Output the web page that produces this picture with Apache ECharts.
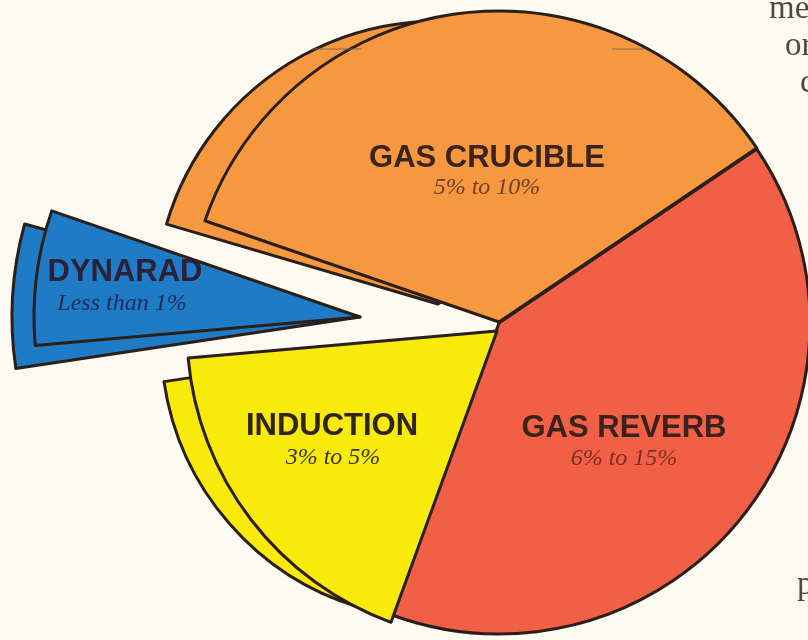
<!DOCTYPE html>
<html>
<head>
<meta charset="utf-8">
<script src="https://cdn.jsdelivr.net/npm/echarts@6/dist/echarts.min.js"></script>
<style>
  html, body { margin: 0; padding: 0; background: #FCFAF1; }
  #chart { width: 808px; height: 640px; }
</style>
</head>
<body>
<div id="chart"></div>
<script>
// ---- data (as drawn: wedge sizes in degrees, clockwise from the upper-left) ----
const categories = ['GAS CRUCIBLE', 'GAS REVERB', 'INDUCTION', 'DYNARAD'];
const ranges = ['5% to 10%', '6% to 15%', '3% to 5%', 'Less than 1%'];
const sliceAngles = [127, 144, 65, 24];

// ---- styling / layout ----
const colors = ['#F5983F', '#F05F46', '#F8EA0A', '#1F7BC6'];
const edge = '#2a1f1b';
const startAngle = 161;
// top faces (exploded centres)
const topFaces = [
  { center: [499, 322], radius: 311, start: startAngle },
  { center: [499, 323], radius: 311, start: startAngle },
  { center: [497, 331], radius: 310, start: startAngle },
  { center: [360, 317], radius: 326, start: startAngle }
];
// side (thickness) faces, drawn underneath
const sideFaces = [
  { idx: 0, center: [438, 304], radius: 283, start: startAngle + 2.6 },
  { idx: 2, center: [439, 341], radius: 278, start: startAngle + 3.4 },
  { idx: 3, center: [360, 317], radius: 348, start: startAngle + 3.5 }
];
const labelPos = [[487, 158], [624, 428], [332, 426], [125, 272]];
const subPos = [[487, 188], [624, 459], [333, 458], [122, 304]];
const labelColors = ['#3b241e', '#3b221c', '#2f2420', '#2c1f38'];
const subColors = ['#6e4128', '#7e2f26', '#3d3424', '#1f2b58'];

function pieFor(idx, face, z) {
  return {
    type: 'pie',
    silent: true,
    animation: false,
    z: z,
    center: face.center,
    radius: [0, face.radius],
    startAngle: face.start,
    clockwise: true,
    label: { show: false },
    labelLine: { show: false },
    emphasis: { disabled: true },
    data: sliceAngles.map((v, i) => ({
      name: categories[i],
      value: v,
      itemStyle: i === idx
        ? { color: colors[i], borderColor: edge, borderWidth: 3, borderJoin: 'round' }
        : { color: 'rgba(0,0,0,0)', borderWidth: 0 }
    }))
  };
}

const series = [];
sideFaces.forEach((f, k) => series.push(pieFor(f.idx, f, 1 + k)));
topFaces.forEach((f, i) => series.push(pieFor(i, f, 10 + i)));

const graphic = [];
categories.forEach((name, i) => {
  graphic.push({
    type: 'text', x: labelPos[i][0], y: labelPos[i][1], z: 100,
    style: {
      text: name, fill: labelColors[i],
      font: 'bold 31px "Liberation Sans", Arial, sans-serif',
      align: 'center', verticalAlign: 'middle',
      textAlign: 'center', textVerticalAlign: 'middle'
    }
  });
  graphic.push({
    type: 'text', x: subPos[i][0], y: subPos[i][1], z: 100,
    style: {
      text: ranges[i], fill: subColors[i],
      font: 'italic 24px "Liberation Serif", "Times New Roman", serif',
      align: 'center', verticalAlign: 'middle',
      textAlign: 'center', textVerticalAlign: 'middle'
    }
  });
});
// fragments of the surrounding page text at the right edge
const fragments = [['me', 769, 26], ['or', 785, 63], ['c', 800, 100], ['p', 797, 602]];
fragments.forEach(f => {
  graphic.push({
    type: 'text', x: f[1], y: f[2], z: 100,
    style: {
      text: f[0], fill: '#4d4944',
      font: '33px "Liberation Serif", serif',
      align: 'left', verticalAlign: 'bottom',
      textAlign: 'left', textVerticalAlign: 'bottom'
    }
  });
});
// faint scan seams near the top
[[312, 362], [612, 645]].forEach(s => {
  graphic.push({
    type: 'line', z: 100,
    shape: { x1: s[0], y1: 49, x2: s[1], y2: 49 },
    style: { stroke: '#6f655c', lineWidth: 1.5, opacity: 0.6 }
  });
});

const chart = echarts.init(document.getElementById('chart'), null, { renderer: 'canvas' });
chart.setOption({
  backgroundColor: '#FCFAF1',
  animation: false,
  series: series,
  graphic: graphic
});
</script>
</body>
</html>
